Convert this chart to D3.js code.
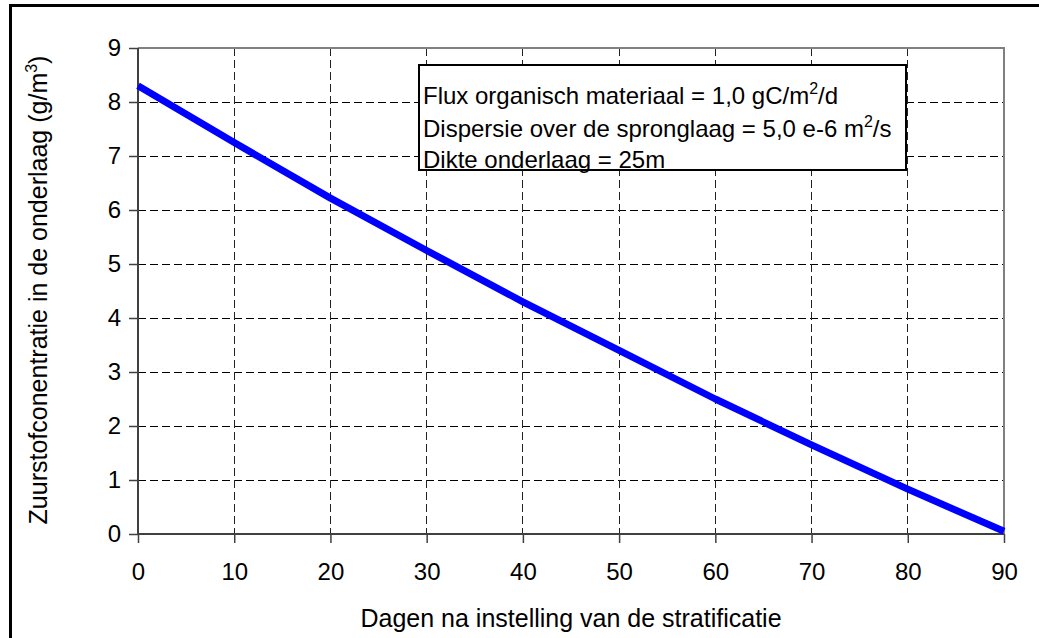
<!DOCTYPE html>
<html>
<head>
<meta charset="utf-8">
<script src="https://cdn.jsdelivr.net/npm/d3@7"></script>
<style>
  html, body { margin: 0; padding: 0; background: #fff; }
  svg text { font-family: "Liberation Sans", Arial, sans-serif; fill: #000; }
</style>
</head>
<body>
<svg id="chart" width="1039" height="638"></svg>
<script>
// Oxygen concentration in the bottom layer after stratification sets in
const days = [0, 10, 20, 30, 40, 50, 60, 70, 80, 90];
const oxygen = [8.30, 7.25, 6.22, 5.25, 4.30, 3.40, 2.50, 1.65, 0.83, 0.05];
const xTicks = [0, 10, 20, 30, 40, 50, 60, 70, 80, 90];
const yTicks = [0, 1, 2, 3, 4, 5, 6, 7, 8, 9];
const xTitle = "Dagen na instelling van de stratificatie";
const noteLines = [
  [["Flux organisch materiaal = 1,0 gC/m", false], ["2", true], ["/d", false]],
  [["Dispersie over de spronglaag = 5,0 e-6 m", false], ["2", true], ["/s", false]],
  [["Dikte onderlaag = 25m", false]]
];

const svg = d3.select("#chart");
const plot = { left: 138, right: 1004, top: 48, bottom: 534 };

const x = d3.scaleLinear().domain([0, 90]).range([plot.left, plot.right]);
const y = d3.scaleLinear().domain([0, 9]).range([plot.bottom, plot.top]);

// outer frame (left and top edges visible)
svg.append("path")
  .attr("d", "M10.5,645 L10.5,5.5 L1045,5.5")
  .attr("fill", "none").attr("stroke", "#000").attr("stroke-width", 3);

// gridlines
const grid = svg.append("g");
grid.selectAll("line.h").data(yTicks.filter(d => d > 0 && d < 9)).enter().append("line")
  .attr("x1", plot.left).attr("x2", plot.right)
  .attr("y1", d => y(d)).attr("y2", d => y(d))
  .attr("stroke", "#000").attr("stroke-width", 1).attr("stroke-dasharray", "8,4")
  .attr("shape-rendering", "crispEdges");
grid.selectAll("line.v").data(xTicks.filter(d => d > 0 && d < 90)).enter().append("line")
  .attr("x1", d => x(d)).attr("x2", d => x(d))
  .attr("y1", plot.top).attr("y2", plot.bottom)
  .attr("stroke", "#222").attr("stroke-width", 1).attr("stroke-dasharray", "8,4")
  .attr("shape-rendering", "crispEdges");

// plot frame: top and right in grey
svg.append("path")
  .attr("d", `M${plot.left},${plot.top} L${plot.right},${plot.top} L${plot.right},${plot.bottom}`)
  .attr("fill", "none").attr("stroke", "#808080").attr("stroke-width", 2);

// axes
const xAxis = d3.axisBottom(x).tickValues(xTicks).tickSize(9).tickPadding(20);
const yAxis = d3.axisLeft(y).tickValues(yTicks).tickSize(9).tickPadding(8);

const gx = svg.append("g").attr("transform", `translate(0,${plot.bottom})`).call(xAxis);
const gy = svg.append("g").attr("transform", `translate(${plot.left},0)`).call(yAxis);
[gx, gy].forEach(g => {
  g.select(".domain").attr("stroke", "#404040").attr("stroke-width", 2);
  g.selectAll(".tick line").attr("stroke", "#404040").attr("stroke-width", 1.5);
  g.selectAll(".tick text").style("font-family", "Liberation Sans, Arial, sans-serif")
    .style("font-size", "24px").attr("fill", "#000");
});
gx.select(".domain").attr("d", `M${plot.left},0H${plot.right}`);
gy.select(".domain").attr("d", `M0,${plot.bottom}V${plot.top}`);

// data line
const line = d3.line().x((d, i) => x(days[i])).y(d => y(d));
svg.append("path")
  .datum(oxygen)
  .attr("d", line)
  .attr("fill", "none").attr("stroke", "#0000ff").attr("stroke-width", 7)
  .attr("stroke-linejoin", "round");

// axis titles
svg.append("text")
  .attr("x", (plot.left + plot.right) / 2).attr("y", 627)
  .attr("text-anchor", "middle").style("font-size", "25px")
  .text(xTitle);

const yt = svg.append("text")
  .attr("transform", `translate(47,${(plot.top + plot.bottom) / 2 - 1}) rotate(-90)`)
  .attr("text-anchor", "middle").style("font-size", "25px");
yt.append("tspan").text("Zuurstofconentratie in de onderlaag (g/m");
yt.append("tspan").attr("dy", -10).style("font-size", "16px").text("3");
yt.append("tspan").attr("dy", 10).text(")");

// annotation box
svg.append("rect")
  .attr("x", 419).attr("y", 65).attr("width", 487).attr("height", 105)
  .attr("fill", "#fff").attr("stroke", "#000").attr("stroke-width", 2);

const baselines = [94, 127, 158];
noteLines.forEach((parts, i) => {
  const t = svg.append("text").attr("x", 423).attr("y", baselines[i]).style("font-size", "24px");
  parts.forEach(([s, sup]) => {
    if (sup) t.append("tspan").attr("dy", -10).style("font-size", "16px").text(s);
    else t.append("tspan").attr("dy", t.selectAll("tspan").size() ? 10 : 0).text(s);
  });
});
</script>
</body>
</html>
